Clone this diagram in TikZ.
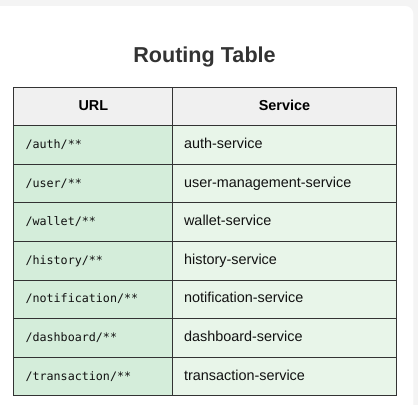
\documentclass[tikz,border=0pt]{standalone}
\usepackage{fontspec}
\setmainfont{Liberation Sans}
\newfontfamily\monofont{DejaVu Sans Mono}
\definecolor{pagebg}{HTML}{F4F4F4}
\definecolor{gridline}{HTML}{333333}
\definecolor{headbg}{HTML}{F0F0F0}
\definecolor{urlbg}{HTML}{D4EDDA}
\definecolor{svcbg}{HTML}{E8F5E9}
\definecolor{titlecol}{HTML}{333333}
\definecolor{cellText}{HTML}{111111}
\begin{document}
\begin{tikzpicture}[x=1pt,y=-1pt,
  cellbase/.style={draw=gridline, line width=1pt, rectangle, anchor=north west,
    minimum height=38.6pt, inner ysep=0pt, text height=10pt, text depth=3pt},
  headcell/.style={cellbase, fill=headbg, align=center, text=black,
    font=\fontsize{14.4}{16}\selectfont\bfseries},
  urlcell/.style={cellbase, fill=urlbg, text width=135.6pt, inner xsep=11.7pt,
    align=left, text=cellText, font=\monofont\fontsize{11.7}{14}\selectfont},
  svccell/.style={cellbase, fill=svcbg, text width=200.8pt, inner xsep=11.3pt,
    align=left, text=cellText, font=\fontsize{14.4}{16}\selectfont},
]
\useasboundingbox (0,0) rectangle (418,405);
\fill[pagebg] (0,0) rectangle (418,405);
\fill[white, rounded corners=8pt] (-12,6) rectangle (413.3,430);
\node[font=\fontsize{21.6}{24}\selectfont\bfseries, text=titlecol, anchor=base] (title) at (204.5,62.3) {Routing Table};
\node[headcell, minimum width=159pt] (hurl) at (13.3,86.7) {URL};
\node[headcell, minimum width=223.4pt] (hsvc) at (172.3,86.7) {Service};
\node[urlcell] (u1) at (13.3,125.3) {/auth/**};
\node[svccell] (s1) at (172.3,125.3) {auth-service};
\node[urlcell] (u2) at (13.3,163.87) {/user/**};
\node[svccell] (s2) at (172.3,163.87) {user-management-service};
\node[urlcell] (u3) at (13.3,202.44) {/wallet/**};
\node[svccell] (s3) at (172.3,202.44) {wallet-service};
\node[urlcell] (u4) at (13.3,241.01) {/history/**};
\node[svccell] (s4) at (172.3,241.01) {history-service};
\node[urlcell] (u5) at (13.3,279.58) {/notification/**};
\node[svccell] (s5) at (172.3,279.58) {notification-service};
\node[urlcell] (u6) at (13.3,318.15) {/dashboard/**};
\node[svccell] (s6) at (172.3,318.15) {dashboard-service};
\node[urlcell] (u7) at (13.3,356.72) {/transaction/**};
\node[svccell] (s7) at (172.3,356.72) {transaction-service};
\end{tikzpicture}
\end{document}
